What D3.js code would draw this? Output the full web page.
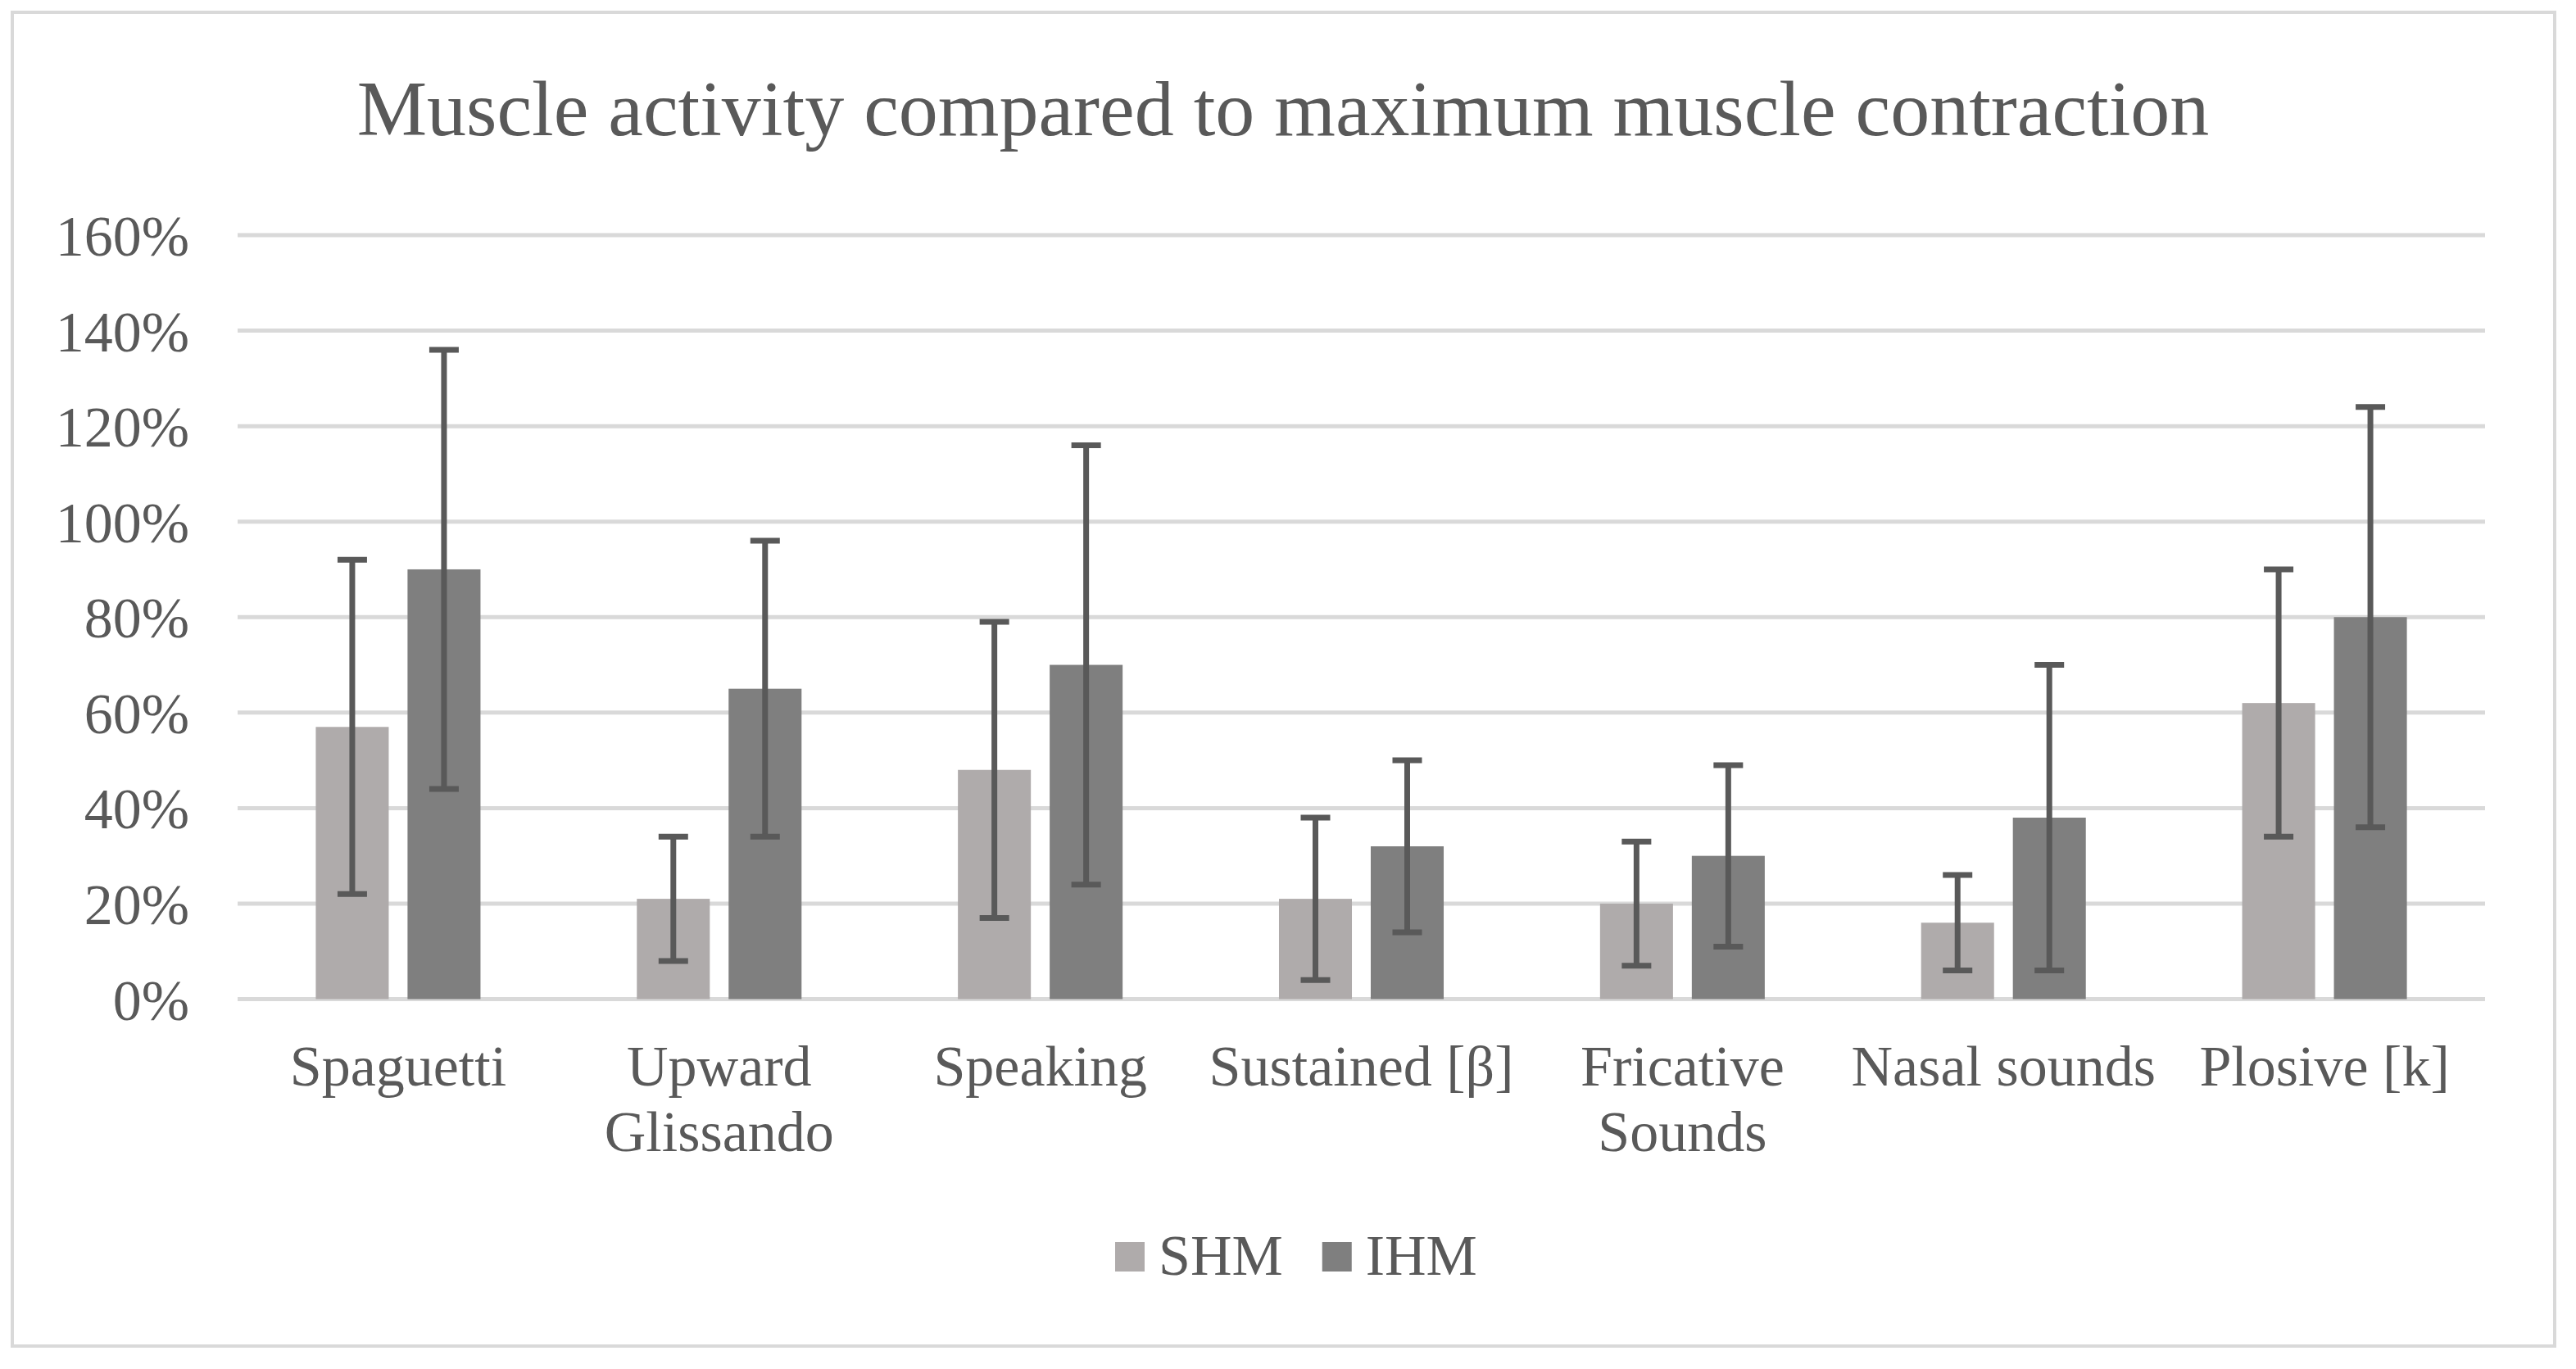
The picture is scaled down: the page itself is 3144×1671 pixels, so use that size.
<!DOCTYPE html>
<html>
<head>
<meta charset="utf-8">
<script src="https://cdn.jsdelivr.net/npm/d3@7"></script>
<style>
  body { margin: 0; background: #fff; }
  text { font-family: "Liberation Serif", "Times New Roman", serif; fill: #595959; }
</style>
</head>
<body>
<div id="chart"><svg></svg></div>
<script>
// data
const categories = ["Spaguetti", "Upward Glissando", "Speaking", "Sustained [β]", "Fricative Sounds", "Nasal sounds", "Plosive [k]"]
const series = ["SHM", "IHM"]
const shmValues = [57, 21, 48, 21, 20, 16, 62]
const shmErrors = [35, 13, 31, 17, 13, 10, 28]
const ihmValues = [90, 65, 70, 32, 30, 38, 80]
const ihmErrors = [46, 31, 46, 18, 19, 32, 44]
const yTicks = [0, 20, 40, 60, 80, 100, 120, 140, 160]
const title = "Muscle activity compared to maximum muscle contraction"

const width = 3144
const height = 1671
const colors = { SHM: "#afabab", IHM: "#7f7f7f" }

const plotLeft = 290
const plotRight = 3033
const plotTop = 287
const plotBottom = 1219.5

const svg = d3.select("#chart svg").attr("width", width).attr("height", height)

// outer chart border
svg.append("rect")
  .attr("x", 15).attr("y", 15)
  .attr("width", 3103).attr("height", 1628)
  .attr("fill", "#fff")
  .attr("stroke", "#d9d9d9")
  .attr("stroke-width", 4)

svg.append("text")
  .attr("x", 1566).attr("y", 165)
  .attr("text-anchor", "middle")
  .attr("font-size", 96)
  .text(title)

const y = d3.scaleLinear().domain([0, 160]).range([plotBottom, plotTop])
const x0 = d3.scaleBand().domain(categories).range([plotLeft, plotRight])
const groupW = x0.bandwidth() * 0.513
const x1 = d3.scaleBand()
  .domain(series)
  .range([(x0.bandwidth() - groupW) / 2, (x0.bandwidth() + groupW) / 2])
  .paddingInner(0.205)

// gridlines
svg.append("g")
  .selectAll("line")
  .data(yTicks)
  .join("line")
  .attr("x1", plotLeft).attr("x2", plotRight)
  .attr("y1", (d) => y(d)).attr("y2", (d) => y(d))
  .attr("stroke", "#d9d9d9")
  .attr("stroke-width", 5)

// y labels
svg.append("g")
  .selectAll("text")
  .data(yTicks)
  .join("text")
  .attr("x", 231)
  .attr("y", (d) => y(d) + 25)
  .attr("text-anchor", "end")
  .attr("font-size", 70)
  .text((d) => d + "%")

const rows = categories.map((c, i) => ({
  cat: c,
  SHM: { v: shmValues[i], e: shmErrors[i] },
  IHM: { v: ihmValues[i], e: ihmErrors[i] },
}))

const groups = svg.append("g")
  .selectAll("g")
  .data(rows)
  .join("g")
  .attr("transform", (d) => `translate(${x0(d.cat)},0)`)

groups.selectAll("rect")
  .data((d) => series.map((s) => ({ s, ...d[s] })))
  .join("rect")
  .attr("x", (d) => x1(d.s))
  .attr("y", (d) => y(d.v))
  .attr("width", x1.bandwidth())
  .attr("height", (d) => plotBottom - y(d.v))
  .attr("fill", (d) => colors[d.s])

// error bars
const capW = 36
groups.each(function (d) {
  const g = d3.select(this)
  series.forEach((s) => {
    const cx = x1(s) + x1.bandwidth() / 2
    const hi = y(d[s].v + d[s].e)
    const lo = y(d[s].v - d[s].e)
    const eb = g.append("g").attr("stroke", "#595959").attr("stroke-width", 7)
    eb.append("line").attr("x1", cx).attr("x2", cx).attr("y1", hi).attr("y2", lo)
    eb.append("line").attr("x1", cx - capW / 2).attr("x2", cx + capW / 2).attr("y1", hi).attr("y2", hi)
    eb.append("line").attr("x1", cx - capW / 2).attr("x2", cx + capW / 2).attr("y1", lo).attr("y2", lo)
  })
})

// category labels, wrapped to the band width
const catLabels = svg.append("g")
  .selectAll("text")
  .data(categories)
  .join("text")
  .attr("x", (d) => x0(d) + x0.bandwidth() / 2)
  .attr("y", 1325)
  .attr("text-anchor", "middle")
  .attr("font-size", 70)

catLabels.each(function (d) {
  const t = d3.select(this)
  const words = d.split(" ")
  let line = []
  let tspan = t.append("tspan").attr("x", t.attr("x")).attr("dy", 0)
  words.forEach((w) => {
    line.push(w)
    tspan.text(line.join(" "))
    if (tspan.node().getComputedTextLength() > x0.bandwidth() && line.length > 1) {
      line.pop()
      tspan.text(line.join(" "))
      line = [w]
      tspan = t.append("tspan").attr("x", t.attr("x")).attr("dy", 80).text(w)
    }
  })
})

// legend
const legend = svg.append("g")
let lx = 1361
series.forEach((s) => {
  legend.append("rect")
    .attr("x", lx).attr("y", 1516)
    .attr("width", 36).attr("height", 36)
    .attr("fill", colors[s])
  const t = legend.append("text")
    .attr("x", lx + 53).attr("y", 1556)
    .attr("font-size", 70)
    .text(s)
  lx += 53 + t.node().getComputedTextLength() + 48
})
</script>
</body>
</html>
